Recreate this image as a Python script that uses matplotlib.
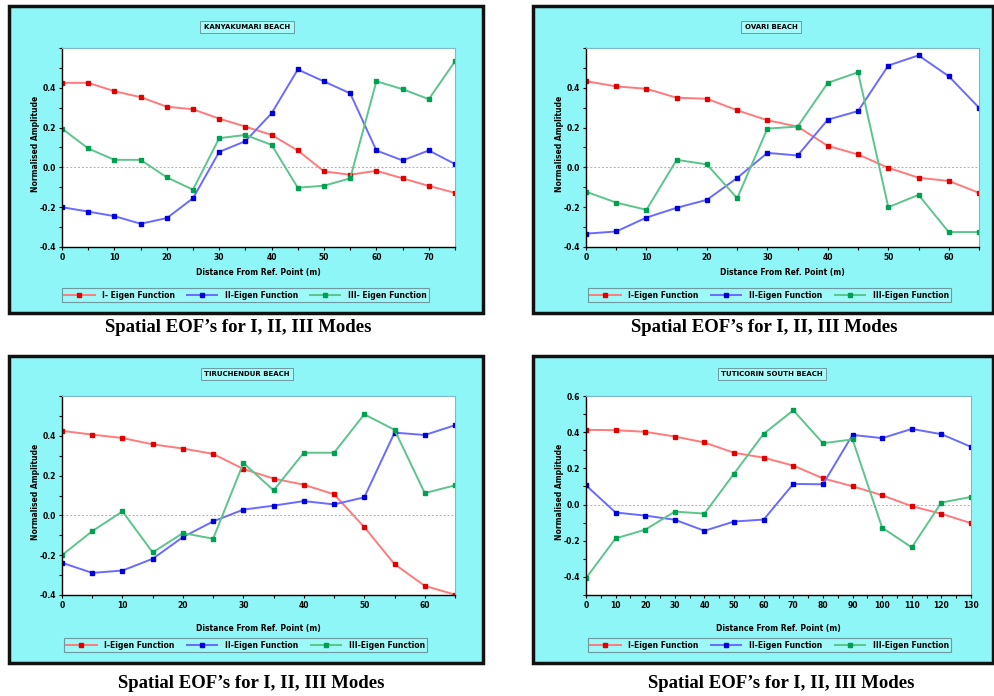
import matplotlib
matplotlib.use('Agg')
import matplotlib.pyplot as plt
from matplotlib.patches import Rectangle
from matplotlib.ticker import MultipleLocator

# ---- data ----
kanya_x = [0, 5, 10, 15, 20, 25, 30, 35, 40, 45, 50, 55, 60, 65, 70, 75]
kanya_i = [0.425, 0.425, 0.383, 0.353, 0.305, 0.292, 0.245, 0.205, 0.163, 0.085, -0.02, -0.037, -0.017, -0.055, -0.093, -0.128]
kanya_ii = [-0.2, -0.222, -0.245, -0.283, -0.255, -0.155, 0.078, 0.132, 0.272, 0.492, 0.432, 0.372, 0.085, 0.035, 0.085, 0.017]
kanya_iii = [0.195, 0.095, 0.038, 0.038, -0.05, -0.112, 0.147, 0.163, 0.113, -0.102, -0.092, -0.055, 0.433, 0.393, 0.343, 0.533]

ovari_x = [0, 5, 10, 15, 20, 25, 30, 35, 40, 45, 50, 55, 60, 65]
ovari_i = [0.433, 0.407, 0.395, 0.35, 0.345, 0.287, 0.237, 0.205, 0.108, 0.065, -0.002, -0.052, -0.068, -0.128]
ovari_ii = [-0.333, -0.322, -0.252, -0.203, -0.163, -0.053, 0.073, 0.06, 0.24, 0.283, 0.512, 0.563, 0.458, 0.3]
ovari_iii = [-0.122, -0.177, -0.213, 0.038, 0.015, -0.155, 0.195, 0.205, 0.425, 0.478, -0.2, -0.138, -0.325, -0.325]

tiru_x = [0, 5, 10, 15, 20, 25, 30, 35, 40, 45, 50, 55, 60, 65]
tiru_i = [0.425, 0.406, 0.389, 0.357, 0.336, 0.309, 0.233, 0.185, 0.154, 0.106, -0.059, -0.245, -0.354, -0.398]
tiru_ii = [-0.238, -0.289, -0.277, -0.218, -0.109, -0.03, 0.029, 0.049, 0.072, 0.055, 0.091, 0.416, 0.404, 0.453]
tiru_iii = [-0.2, -0.079, 0.02, -0.186, -0.089, -0.117, 0.263, 0.126, 0.315, 0.315, 0.508, 0.43, 0.112, 0.151]

tuti_x = [0, 10, 20, 30, 40, 50, 60, 70, 80, 90, 100, 110, 120, 130]
tuti_i = [0.413, 0.411, 0.402, 0.376, 0.343, 0.286, 0.259, 0.215, 0.145, 0.101, 0.051, -0.009, -0.051, -0.103]
tuti_ii = [0.106, -0.044, -0.061, -0.084, -0.145, -0.094, -0.083, 0.114, 0.112, 0.385, 0.367, 0.418, 0.389, 0.319]
tuti_iii = [-0.407, -0.187, -0.139, -0.039, -0.05, 0.171, 0.391, 0.521, 0.339, 0.36, -0.128, -0.237, 0.011, 0.042]

titles = ['KANYAKUMARI BEACH', 'OVARI BEACH', 'TIRUCHENDUR BEACH', 'TUTICORIN SOUTH BEACH']
legend_p1 = ['I- Eigen Function', 'II-Eigen Function', 'III- Eigen Function']
legend_rest = ['I-Eigen Function', 'II-Eigen Function', 'III-Eigen Function']
caption = "Spatial EOF\u2019s for I, II, III Modes"

W, H = 994, 696
CYAN = '#8ef6f6'
line_cols = ['#ff7a7a', '#6a6aff', '#5cc48c']
mark_cols = ['#e00000', '#0000dd', '#00a050']

fig = plt.figure(figsize=(W / 100, H / 100), dpi=100)
fig.patch.set_facecolor('white')


def box(x0, y0, x1, y1):
    # pixel box (top-left origin) -> figure fraction rect
    return [x0 / W, 1 - y1 / H, (x1 - x0) / W, (y1 - y0) / H]


panels = [
    dict(frame=(9, 6, 483, 313), ax=(62, 48, 455, 247), title=(247, 27), cap=(238, 328),
         leg=(58, 288, 433, 302), xs=kanya_x, ys=[kanya_i, kanya_ii, kanya_iii],
         xmax=75, ymin=-0.4, top_label=False, labels=legend_p1),
    dict(frame=(533, 6, 993, 313), ax=(586, 48, 979, 247), title=(771, 27), cap=(764, 328),
         leg=(584, 288, 955, 302), xs=ovari_x, ys=[ovari_i, ovari_ii, ovari_iii],
         xmax=65, ymin=-0.4, top_label=False, labels=legend_rest),
    dict(frame=(9, 356, 483, 663), ax=(62, 396, 455, 595), title=(247, 374), cap=(251, 683),
         leg=(60, 638, 431, 652), xs=tiru_x, ys=[tiru_i, tiru_ii, tiru_iii],
         xmax=65, ymin=-0.4, top_label=False, labels=legend_rest),
    dict(frame=(533, 356, 993, 663), ax=(586, 396, 971, 595), title=(772, 374), cap=(781, 683),
         leg=(584, 638, 955, 652), xs=tuti_x, ys=[tuti_i, tuti_ii, tuti_iii],
         xmax=130, ymin=-0.5, top_label=True, labels=legend_rest),
]

for p, title in zip(panels, titles):
    fx0, fy0, fx1, fy1 = p['frame']
    fig.patches.append(Rectangle((fx0 / W, 1 - fy1 / H), (fx1 - fx0) / W, (fy1 - fy0) / H,
                                 transform=fig.transFigure, facecolor=CYAN,
                                 edgecolor='#111111', linewidth=2.5, zorder=-5))

    ax = fig.add_axes(box(*p['ax']))
    ax.set_facecolor('white')
    for k, ys in enumerate(p['ys']):
        ax.plot(p['xs'], ys, color=line_cols[k], linewidth=1.4,
                marker='s', markersize=3.2 if k < 2 else 2.6,
                markerfacecolor=mark_cols[k], markeredgecolor=mark_cols[k],
                label=p['labels'][k])
    ax.axhline(0, color='#d4a0a0', linewidth=0.7, linestyle=(0, (2, 2)), zorder=0)

    ax.set_xlim(0, p['xmax'])
    ax.set_ylim(p['ymin'], 0.6)

    ax.xaxis.set_major_locator(MultipleLocator(10))
    ax.xaxis.set_minor_locator(MultipleLocator(5))
    ax.yaxis.set_minor_locator(MultipleLocator(0.1))
    yt = [-0.4, -0.2, 0.0, 0.2, 0.4, 0.6]
    ax.set_yticks(yt)
    ax.set_yticklabels(['%.1f' % v if (v < 0.5 or p['top_label']) else '' for v in yt])
    ax.tick_params(which='both', direction='out', length=2.5, width=0.8, labelsize=5.5, pad=1.5)
    ax.tick_params(which='minor', length=2)
    for lab in ax.get_xticklabels() + ax.get_yticklabels():
        lab.set_fontweight('bold')

    for side in ['left', 'bottom']:
        ax.spines[side].set_color('black')
        ax.spines[side].set_linewidth(1.0)
    for side in ['top', 'right']:
        ax.spines[side].set_color('#7fb8c8')
        ax.spines[side].set_linewidth(0.8)

    ax.set_xlabel('Distance From Ref. Point (m)', fontsize=5.5, fontweight='bold')
    ax.set_ylabel('Normalised Amplitude', fontsize=5.5, fontweight='bold')
    ax_w = p['ax'][2] - p['ax'][0]
    ax_h = p['ax'][3] - p['ax'][1]
    ax.xaxis.set_label_coords(0.5, -(p['cap'][1] - 55 - p['ax'][3]) / ax_h)
    ax.xaxis.label.set_va('center')
    ax.yaxis.set_label_coords(-(p['ax'][0] - p['frame'][0] - 26) / ax_w, 0.52)
    ax.yaxis.label.set_va('center')

    lx0, ly0, lx1, ly1 = p['leg']
    leg = ax.legend(loc='center', ncol=3, mode='expand', fontsize=5.5,
                    bbox_to_anchor=(lx0 / W, 1 - ly1 / H, (lx1 - lx0) / W, (ly1 - ly0) / H),
                    bbox_transform=fig.transFigure, handlelength=4.0, borderpad=0.3,
                    fancybox=False, framealpha=1, handletextpad=1.0)
    leg.get_frame().set_facecolor('#9ef8f8')
    leg.get_frame().set_edgecolor('#6c9aa0')
    leg.get_frame().set_linewidth(0.8)
    for t in leg.get_texts():
        t.set_fontweight('bold')

    tx, ty = p['title']
    fig.text(tx / W, 1 - ty / H, title, fontsize=5, fontweight='bold', ha='center', va='center',
             bbox=dict(boxstyle='square,pad=0.5', facecolor='#a6fafa', edgecolor='#6c9aa0', linewidth=0.7))

    cx, cy = p['cap']
    fig.text(cx / W, 1 - cy / H, caption, fontsize=13.5, fontweight='bold',
             family='Liberation Serif', ha='center', va='center')

fig.savefig('out.png', dpi=100)
